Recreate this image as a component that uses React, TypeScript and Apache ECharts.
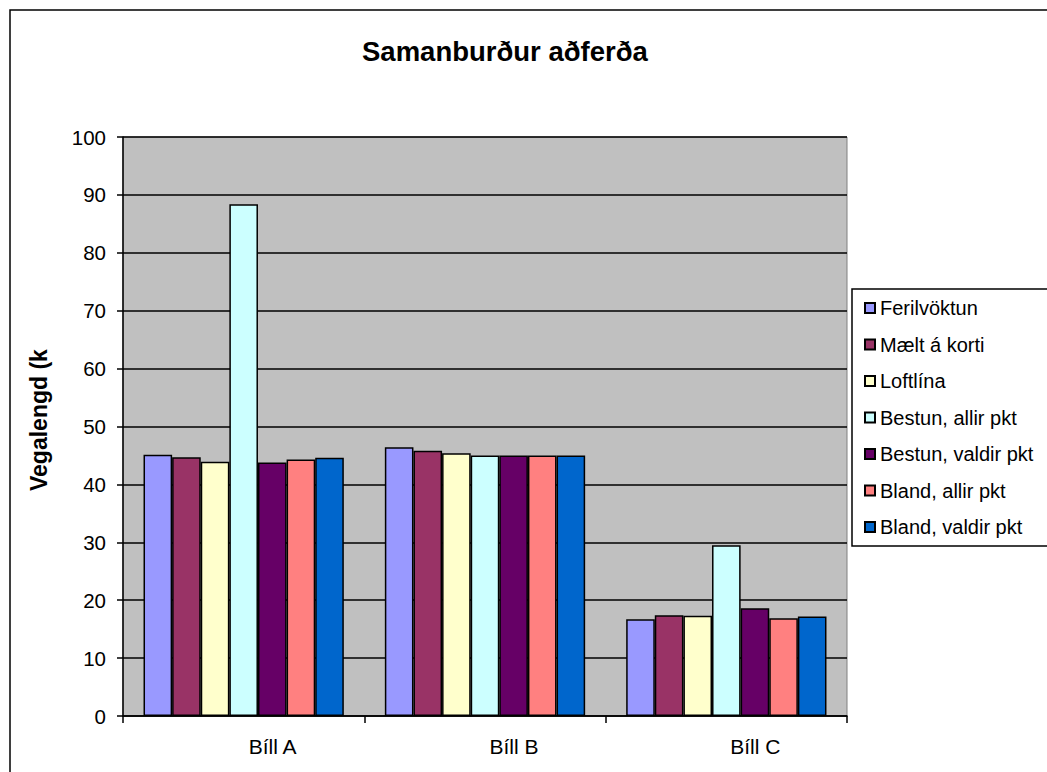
import React, { useEffect, useRef } from "react";
import * as echarts from "echarts";

const categories = ["Bíll A", "Bíll B", "Bíll C"];
const seriesNames = [
  "Ferilvöktun",
  "Mælt á korti",
  "Loftlína",
  "Bestun, allir pkt",
  "Bestun, valdir pkt",
  "Bland, allir pkt",
  "Bland, valdir pkt",
];
const ferilvoktun = [45.1, 46.4, 16.7];
const maeltAKorti = [44.7, 45.8, 17.4];
const loftlina = [43.9, 45.4, 17.3];
const bestunAllir = [88.4, 45.0, 29.5];
const bestunValdir = [43.8, 45.0, 18.6];
const blandAllir = [44.3, 45.0, 16.9];
const blandValdir = [44.6, 45.0, 17.2];
const seriesValues = [ferilvoktun, maeltAKorti, loftlina, bestunAllir, bestunValdir, blandAllir, blandValdir];
const colors = ["#9999FF", "#993366", "#FFFFCC", "#CCFFFF", "#660066", "#FF8080", "#0066CC"];

const FONT = "Arial, 'Liberation Sans', sans-serif";

export default function App() {
  const ref = useRef<HTMLDivElement>(null);
  useEffect(() => {
    if (!ref.current) return;
    const chart = echarts.init(ref.current, null, { renderer: "svg" });
    chart.setOption({
      animation: false,
      backgroundColor: "#ffffff",
      title: {
        text: "Samanburður aðferða",
        left: 362,
        top: 37,
        padding: 0,
        textStyle: { fontFamily: FONT, fontSize: 27.5, fontWeight: "bold", color: "#000" },
      },
      graphic: [
        {
          type: "rect",
          shape: { x: 10, y: 10, width: 1100, height: 800 },
          style: { fill: "none", stroke: "#000", lineWidth: 1.5 },
          z: 100,
        },
        {
          type: "text",
          x: 39,
          y: 491,
          rotation: Math.PI / 2,
          style: {
            text: "Vegalengd (km)",
            font: "bold 23px Arial, 'Liberation Sans', sans-serif",
            fill: "#000",
            align: "left",
            verticalAlign: "middle",
            width: 158,
            overflow: "truncate",
            ellipsis: "",
          },
        },
      ],
      legend: {
        orient: "vertical",
        left: 852,
        top: 289,
        width: 300,
        padding: [9, 40, 9, 12],
        itemGap: 16.5,
        itemWidth: 10,
        itemHeight: 10,
        icon: "rect",
        backgroundColor: "#ffffff",
        borderColor: "#000",
        borderWidth: 1.5,
        textStyle: { fontFamily: FONT, fontSize: 20, color: "#000", lineHeight: 20 },
        data: seriesNames,
      },
      grid: {
        left: 123,
        top: 137,
        right: 200,
        bottom: 56,
        show: true,
        backgroundColor: "#C0C0C0",
        borderColor: "#808080",
        borderWidth: 1,
      },
      xAxis: {
        type: "category",
        data: categories,
        axisLine: { lineStyle: { color: "#000", width: 1.5 } },
        axisTick: { show: true, length: 7, lineStyle: { color: "#000", width: 1.5 } },
        axisLabel: {
          fontFamily: FONT,
          fontSize: 21,
          color: "#000",
          margin: 20,
          padding: [0, 0, 0, 58],
        },
      },
      yAxis: {
        type: "value",
        min: 0,
        max: 100,
        interval: 10,
        axisLine: { show: true, lineStyle: { color: "#000", width: 1.5 } },
        axisTick: { show: true, length: 6, lineStyle: { color: "#000", width: 1.5 } },
        axisLabel: { fontFamily: FONT, fontSize: 20.5, color: "#000", margin: 17 },
        splitLine: { show: true, lineStyle: { color: "#000", width: 1.5 } },
      },
      series: seriesNames.map((name, i) => ({
        name,
        type: "bar",
        data: seriesValues[i],
        barGap: "0%",
        barCategoryGap: "17%",
        itemStyle: { color: colors[i], borderColor: "#000", borderWidth: 1.5 },
      })),
    });
    return () => chart.dispose();
  }, []);
  return (
    <div
      ref={ref}
      style={{ position: "fixed", left: 0, top: 0, width: 1047, height: 772 }}
    />
  );
}
